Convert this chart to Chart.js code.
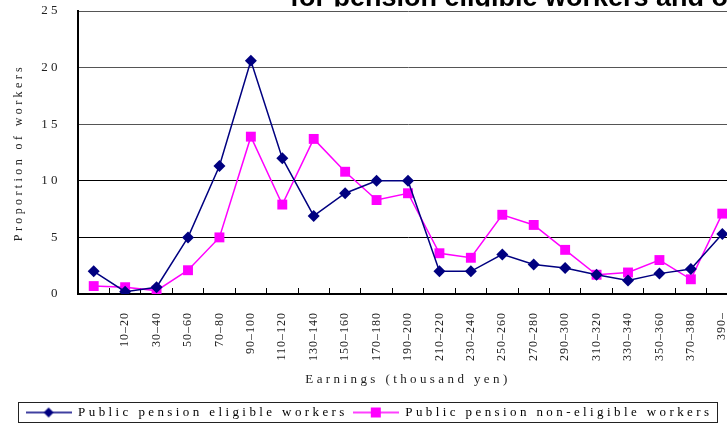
<!DOCTYPE html>
<html>
<head>
<meta charset="utf-8">
<script src="https://cdn.jsdelivr.net/npm/chart.js@4.4.0/dist/chart.umd.min.js"></script>
<style>
  html, body { margin: 0; padding: 0; overflow: hidden; background: #fff; }
  #wrap { position: absolute; left: 0; top: 0; }
</style>
</head>
<body>
<div id="wrap"><canvas id="chart" width="745" height="423"></canvas></div>
<script>
// earnings bands (thousand yen); first band label is not shown in the source
const categories = ['', '10–20', '30–40', '50–60', '70–80', '90–100', '110–120', '130–140',
  '150–160', '170–180', '190–200', '210–220', '230–240', '250–260', '270–280', '290–300',
  '310–320', '330–340', '350–360', '370–380', '390–'];

const eligible = [2.0, 0.2, 0.6, 5.0, 11.3, 20.6, 12.0, 6.9, 8.9, 10.0, 10.0,
  2.0, 2.0, 3.5, 2.6, 2.3, 1.7, 1.2, 1.8, 2.2, 5.3];
const nonEligible = [0.7, 0.6, 0.3, 2.1, 5.0, 13.9, 7.9, 13.7, 10.8, 8.3, 8.9,
  3.6, 3.2, 7.0, 6.1, 3.9, 1.7, 1.9, 3.0, 1.3, 7.1];

const yTicks = [0, 5, 10, 15, 20, 25];

const NAVY = '#000080';
const MAGENTA = '#FF00FF';
const SERIF = '"Liberation Serif", "DejaVu Serif", serif';

// small line + marker icon for the legend
function legendIcon(color, shape) {
    const c = document.createElement('canvas');
    c.width = 46; c.height = 12;
    const g = c.getContext('2d');
    g.strokeStyle = color;
    g.lineWidth = 1.5;
    g.beginPath(); g.moveTo(0, 6); g.lineTo(46, 6); g.stroke();
    g.fillStyle = color;
    g.beginPath();
    if (shape === 'diamond') {
        g.moveTo(23, 1); g.lineTo(28, 6); g.lineTo(23, 11); g.lineTo(18, 6);
    } else {
        g.rect(18, 1, 10, 10);
    }
    g.closePath(); g.fill();
    return c;
}
const icons = [legendIcon(NAVY, 'diamond'), legendIcon(MAGENTA, 'square')];

const spacing = {
    id: 'spacing',
    beforeLayout(chart) { chart.ctx.letterSpacing = '3.4px'; },
    beforeDraw(chart) { chart.ctx.letterSpacing = '3.4px'; },
    afterDatasetsDraw(chart) { chart.ctx.letterSpacing = '1px'; }
};

const frame = {
    id: 'frame',
    afterDraw(chart) {
        const { ctx } = chart;
        ctx.save();
        ctx.letterSpacing = '0px';
        // clipped title at the very top
        ctx.beginPath();
        ctx.rect(0, 0, chart.width, 6.5);
        ctx.clip();
        ctx.fillStyle = '#000';
        ctx.font = 'bold 27px "Liberation Sans", Arial, sans-serif';
        ctx.textBaseline = 'alphabetic';
        ctx.fillText('for pension eligible workers and others', 290, 6);
        ctx.restore();

        // legend box
        const lg = chart.legend;
        const hb = lg.legendHitBoxes;
        if (hb && hb.length) {
            const x0 = hb[0].left - 8;
            const last = hb[hb.length - 1];
            const x1 = last.left + last.width + 4;
            ctx.save();
            ctx.strokeStyle = '#222';
            ctx.lineWidth = 1;
            ctx.strokeRect(Math.round(x0) + 0.5, Math.round(lg.top) + 1.5, Math.round(x1 - x0), 20);
            ctx.restore();
        }
    }
};

new Chart(document.getElementById('chart'), {
    type: 'line',
    data: {
        labels: categories,
        datasets: [
            {
                label: 'Public pension eligible workers',
                data: eligible,
                borderColor: NAVY,
                backgroundColor: NAVY,
                borderWidth: 1.5,
                pointStyle: 'rectRot',
                pointRadius: 6,
                pointBorderWidth: 0,
                pointBackgroundColor: NAVY,
                tension: 0
            },
            {
                label: 'Public pension non-eligible workers',
                data: nonEligible,
                borderColor: MAGENTA,
                backgroundColor: MAGENTA,
                borderWidth: 1.5,
                pointStyle: 'rect',
                pointRadius: 7,
                pointBorderWidth: 0,
                pointBackgroundColor: MAGENTA,
                tension: 0
            }
        ]
    },
    options: {
        responsive: false,
        animation: false,
        devicePixelRatio: 1,
        layout: { padding: { top: 11, right: 7, bottom: 0, left: 0 } },
        plugins: {
            legend: {
                position: 'bottom',
                maxHeight: 22,
                labels: {
                    usePointStyle: true,
                    pointStyleWidth: 46,
                    padding: 5,
                    color: '#000',
                    font: { family: SERIF, size: 13 },
                    generateLabels(chart) {
                        const items = Chart.defaults.plugins.legend.labels.generateLabels(chart);
                        items.forEach((it, i) => { it.pointStyle = icons[i]; });
                        return items;
                    }
                }
            },
            tooltip: { enabled: false }
        },
        scales: {
            x: {
                type: 'category',
                offset: true,
                afterFit(scale) {
                    scale.height = 107;
                    scale.paddingLeft = 0;
                    scale.paddingRight = 0;
                },
                grid: {
                    offset: true,
                    drawOnChartArea: false,
                    drawTicks: true,
                    tickLength: -6,
                    color: '#000'
                },
                border: { color: '#000', width: 2 },
                ticks: {
                    z: 1,
                    autoSkip: false,
                    maxRotation: 90,
                    minRotation: 90,
                    padding: 24,
                    color: '#222',
                    font: { family: SERIF, size: 12 }
                },
                title: {
                    display: true,
                    text: 'Earnings (thousand yen)',
                    color: '#222',
                    font: { family: SERIF, size: 13 },
                    padding: { top: 0, bottom: 14 }
                }
            },
            y: {
                min: 0,
                max: 25,
                afterFit(scale) {
                    scale.width = 78;
                    scale.paddingTop = 0;
                    scale.paddingBottom = 0;
                },
                afterBuildTicks(scale) { scale.ticks = yTicks.map(v => ({ value: v })); },
                grid: {
                    drawTicks: false,
                    color: (c) => (c.tick && c.tick.value > 10 ? '#555' : '#000'),
                    lineWidth: 1
                },
                border: { color: '#000', width: 2 },
                ticks: {
                    padding: 17,
                    color: '#222',
                    font: { family: SERIF, size: 13 }
                },
                title: {
                    display: true,
                    text: 'Proportion of workers',
                    color: '#222',
                    font: { family: SERIF, size: 12 },
                    padding: { top: 12, bottom: 0 }
                }
            }
        }
    },
    plugins: [spacing, frame]
});
</script>
</body>
</html>
